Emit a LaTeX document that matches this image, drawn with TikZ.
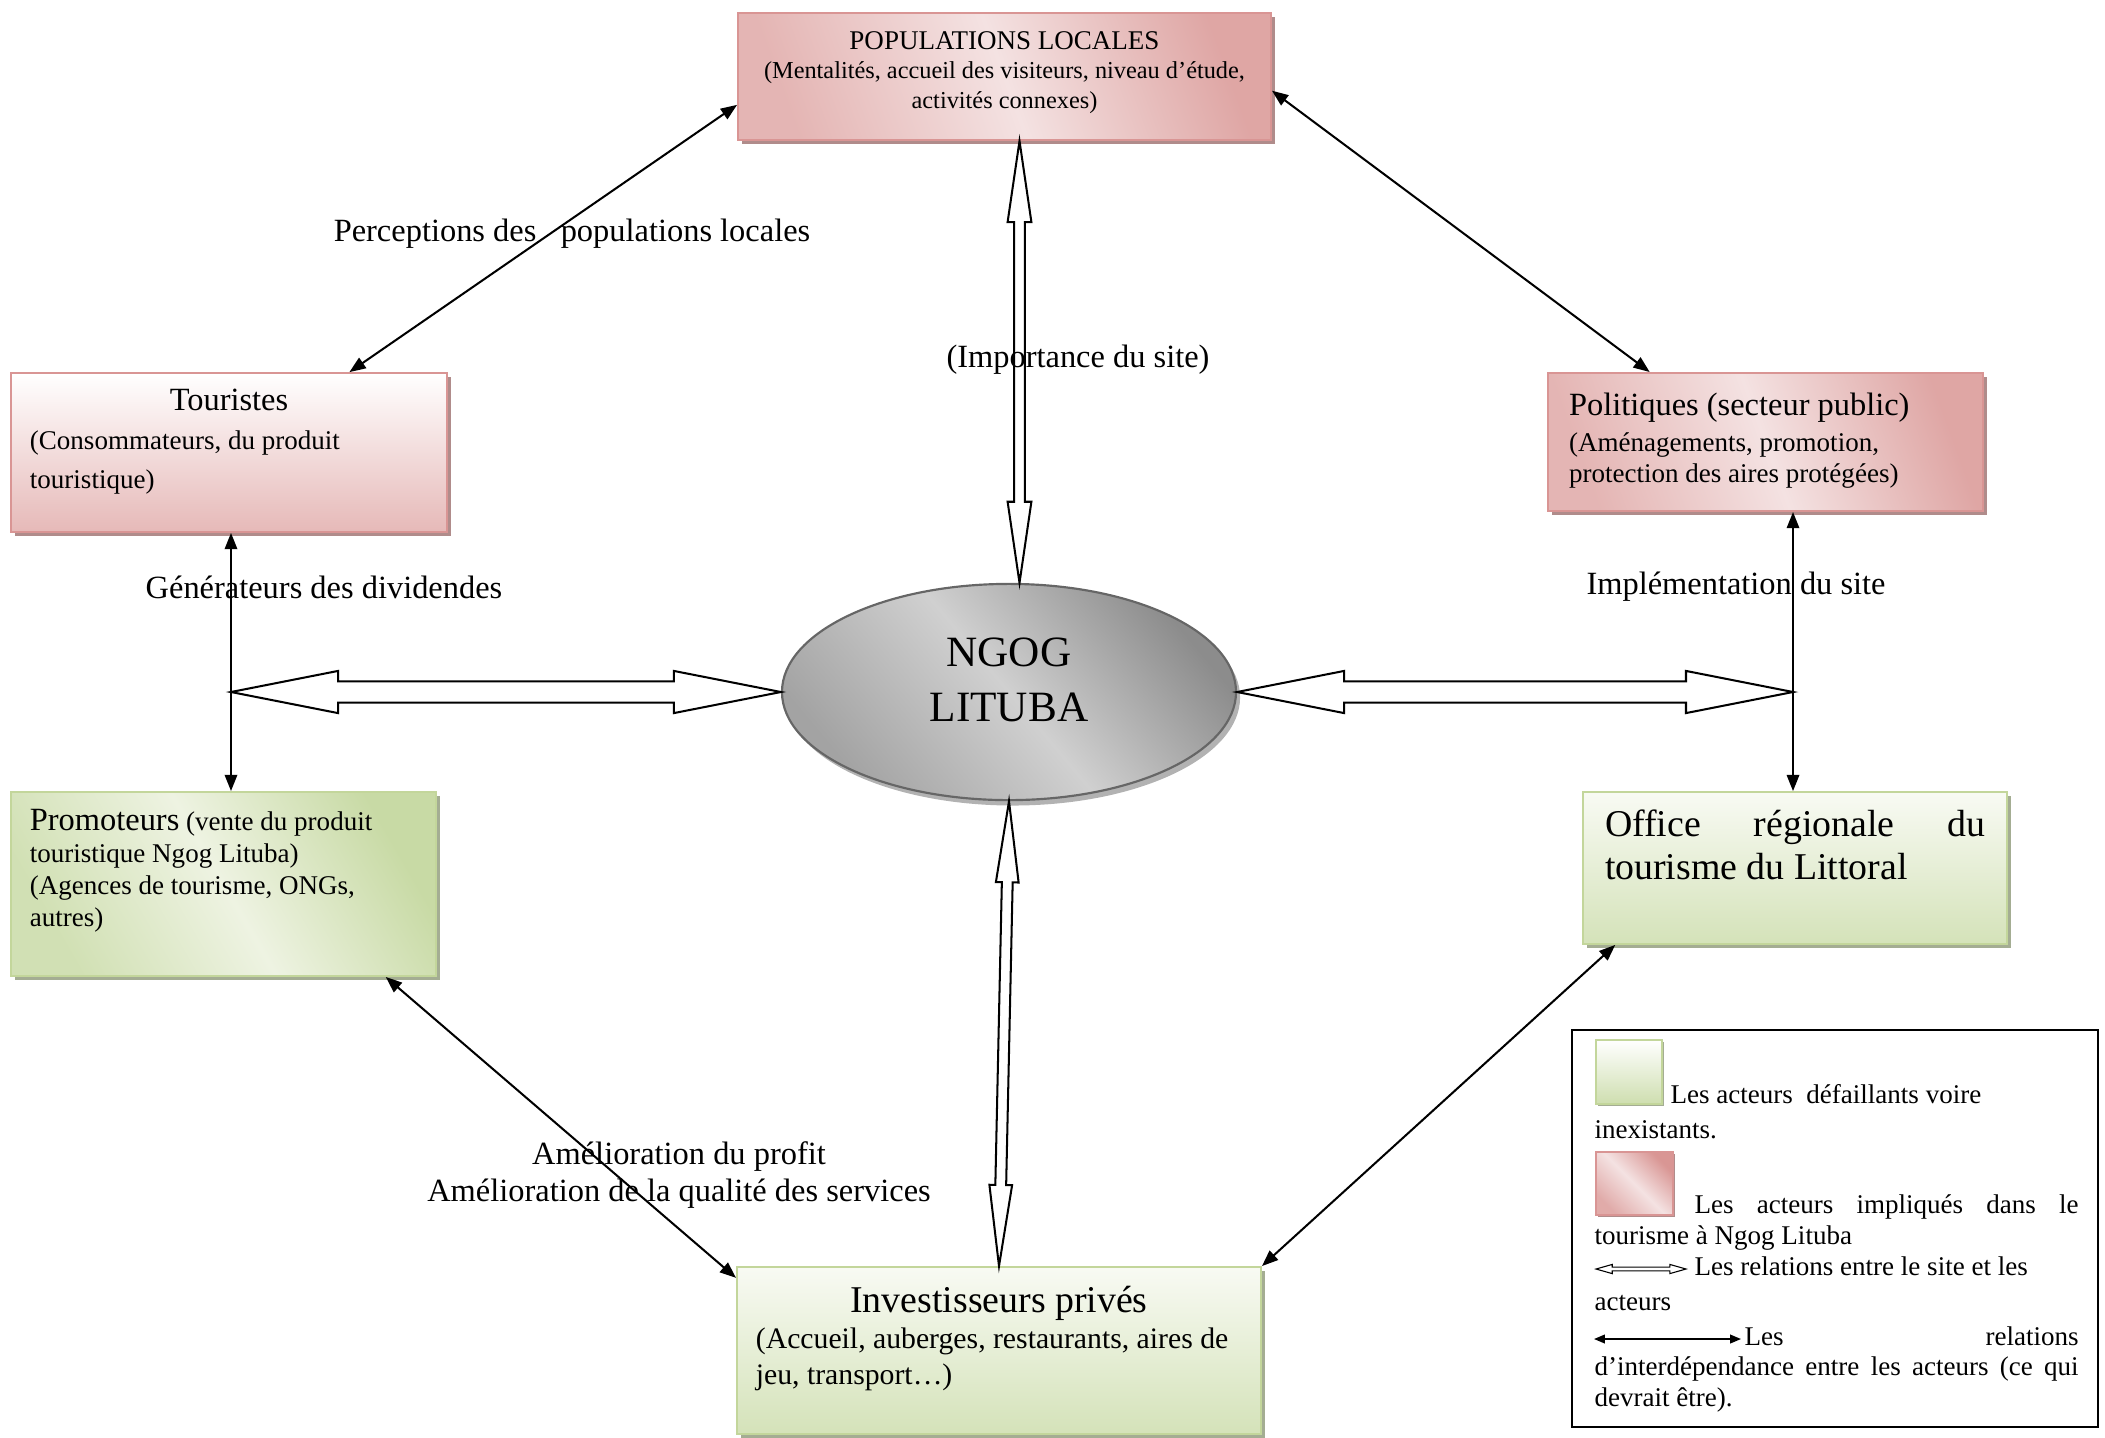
\documentclass[tikz,border=0pt]{standalone}
\usepackage{fontspec}
\setmainfont{Liberation Serif}
\usetikzlibrary{arrows.meta,calc,shapes.geometric,shadows}

\definecolor{roseline}{HTML}{D99594}
\definecolor{rosedark}{HTML}{D99694}
\definecolor{roselight}{HTML}{F4E2E2}
\definecolor{rosebottom}{HTML}{E6B9B8}
\definecolor{roseshadow}{HTML}{B08C8B}
\definecolor{greenline}{HTML}{C3D69B}
\definecolor{greendark}{HTML}{C2D69B}
\definecolor{greenlight}{HTML}{EEF3E2}
\definecolor{greenshadow}{HTML}{A4AD93}
\definecolor{greybody}{HTML}{D0D0D0}
\definecolor{greydark}{HTML}{8C8C8C}
\definecolor{greyline}{HTML}{666666}

% hollow double arrow between two named points: [style]{from}{to}{head length}{head half width}{shaft half width}
\newcommand{\sitearrow}[6][]{%
  \draw[sitelink,#1] (#2) -- ($(#2)!#4!(#3)!#5!90:(#3)$) -- ($(#2)!#4!(#3)!#6!90:(#3)$)
    -- ($(#3)!#4!(#2)!#6!-90:(#2)$) -- ($(#3)!#4!(#2)!#5!-90:(#2)$) -- (#3)
    -- ($(#3)!#4!(#2)!#5!90:(#2)$) -- ($(#3)!#4!(#2)!#6!90:(#2)$)
    -- ($(#2)!#4!(#3)!#6!-90:(#3)$) -- ($(#2)!#4!(#3)!#5!-90:(#3)$) -- cycle;}

\begin{document}
\begin{tikzpicture}[x=0.37pt,y=-0.37pt,>={Triangle[length=6pt,width=4.6pt]},
  involved/.style={draw=roseline,line width=0.7pt,drop shadow={fill=roseshadow,opacity=1,shadow xshift=1.5pt,shadow yshift=-1.5pt}},
  failing/.style={draw=greenline,line width=0.7pt,drop shadow={fill=greenshadow,opacity=1,shadow xshift=1.5pt,shadow yshift=-1.5pt}},
  mutual/.style={<->,line width=0.75pt},
  sitelink/.style={draw,fill=white,line width=0.75pt},
  lbl/.style={font=\fontsize{12}{13.7}\selectfont},
  legtext/.style={anchor=west,inner sep=0pt,font=\fontsize{10}{12}\selectfont,text height=7pt,text depth=2pt}]
\useasboundingbox (0,0) rectangle (2105,1437);

% actors
\node[involved,top color=rosedark!85,bottom color=rosedark!70,middle color=roselight,shading angle=-70,minimum width=197.2pt,minimum height=47pt,text width=190pt,inner xsep=3pt,inner ysep=1pt,align=flush center,font=\fontsize{9}{10.9}\selectfont] (pop) at (1004.5,76.5) {{\fontsize{10}{10.9}\selectfont POPULATIONS LOCALES}\\(Mentalités, accueil des visiteurs, niveau d’étude,\\activités connexes)\par\kern3pt};
\node[involved,top color=white,bottom color=rosebottom,minimum width=161.3pt,minimum height=58.8pt,text width=147.3pt,inner xsep=7pt,align=flush left,font=\fontsize{10}{14.4}\selectfont] (tour) at (229,452.5) {{\centering\fontsize{12}{14.4}\selectfont Touristes\par}(Consommateurs, du produit\\touristique)\par\kern8pt};
\node[involved,top color=rosedark!85,bottom color=rosedark!70,middle color=roselight,shading angle=-70,minimum width=161pt,minimum height=51.1pt,text width=145.4pt,inner xsep=7.8pt,align=flush left,font=\fontsize{10}{11.8}\selectfont] (pol) at (1765.5,442) {{\fontsize{12}{13.7}\selectfont Politiques (secteur public)}\\[1.5pt](Aménagements, promotion,\\protection des aires protégées)\par\kern1pt};
\node[failing,top color=greendark!90,bottom color=greendark!75,middle color=greenlight,shading angle=-60,minimum width=157.3pt,minimum height=68.1pt,text width=143.3pt,inner xsep=7pt,align=flush left,font=\fontsize{10}{11.8}\selectfont] (prom) at (223.5,884) {{\fontsize{12}{11.8}\selectfont Promoteurs} (vente du produit\\touristique Ngog Lituba)\\(Agences de tourisme, ONGs,\\autres)\par\kern10pt};
\node[failing,top color=greenlight!40,bottom color=greendark!70,minimum width=156.9pt,minimum height=56.2pt,text width=140.6pt,inner xsep=7.4pt,align=flush left,font=\fontsize{14}{15.9}\selectfont] (off) at (1795,868) {\makebox[140.6pt][s]{Office régionale du}\\tourisme du Littoral\par\kern17pt};
\node[failing,top color=greenlight!40,bottom color=greendark!70,minimum width=193.9pt,minimum height=61.8pt,text width=179.9pt,inner xsep=7pt,align=flush left,font=\fontsize{11}{13.3}\selectfont] (inv) at (999,1350.5) {{\centering\fontsize{14}{16}\selectfont Investisseurs privés\par}(Accueil, auberges, restaurants, aires de\\jeu, transport…)\par\kern8.9pt};

% the site
\node[ellipse,draw=greyline,line width=0.8pt,top color=greydark,bottom color=greydark!80!white,middle color=greybody,shading angle=-50,drop shadow={fill=gray!60,opacity=1,shadow xshift=1.5pt,shadow yshift=-2pt},minimum width=168pt,minimum height=80pt,text width=80pt,align=flush center,font=\fontsize{16}{20.4}\selectfont] (ell) at (1009,692) {NGOG\\LITUBA\par\kern9.2pt};

% relations site / actors
\coordinate (jl) at (231,692);
\coordinate (jr) at (1793,692);
\coordinate (ha) at ($(pop.south)+(15,0)$);
\coordinate (hb) at (ha |- ell.north);
\sitearrow{ha}{hb}{30pt}{4.4pt}{2pt}
\sitearrow{ell.south}{inv.north}{30pt}{4.2pt}{2pt}
\sitearrow{jl}{ell.west}{39.6pt}{7.8pt}{3.9pt}
\sitearrow{ell.east}{jr}{39.6pt}{7.8pt}{3.9pt}

% relations between actors
\draw[mutual] ($(pop.south west)!0.28!(pop.north west)$) -- ($(tour.north west)!0.775!(tour.north east)$);
\draw[mutual] ($(pop.south east)!0.39!(pop.north east)$) -- ($(pol.north west)!0.235!(pol.north east)$);
\draw[mutual] (jl |- tour.south) -- (jl |- prom.north);
\draw[mutual] (jr |- pol.south) -- (jr |- off.north);
\draw[mutual] ($(prom.south west)!0.88!(prom.south east)$) -- ($(inv.north west)!0.07!(inv.south west)$);
\draw[mutual] ($(off.south west)!0.078!(off.south east)$) -- (inv.north east);

% labels
\node[lbl] (perc) at (572,234) {Perceptions des\ \ \ populations locales};
\node[lbl] (impt) at (1078,360) {(Importance du site)};
\node[lbl] (divid) at (324,587) {Générateurs des dividendes};
\node[lbl] (implm) at (1736,587) {Implémentation du site};
\node[lbl,align=center] (profit) at (679,1175) {Amélioration du profit\\Amélioration de la qualité des services};

% legend
\node[draw,line width=0.9pt,minimum width=194.6pt,minimum height=146.9pt] (leg) at (1835,1228.5) {};
\node[draw=greenline,line width=0.5pt,top color=white,bottom color=greendark!80,minimum width=24.4pt,minimum height=23.7pt,inner sep=0pt,drop shadow={fill=greenshadow,opacity=1,shadow xshift=0.8pt,shadow yshift=-0.8pt}] (gsq) at (1629,1072) {};
\node[draw=roseline,line width=0.5pt,top color=rosedark,bottom color=rosedark!80,middle color=roselight,shading angle=-45,minimum width=28.5pt,minimum height=23.3pt,inner sep=0pt,drop shadow={fill=roseshadow,opacity=1,shadow xshift=0.8pt,shadow yshift=-0.8pt}] (psq) at (1634.5,1183.5) {};
\node[legtext] (lg1) at (1670,1097) {Les acteurs\ \ défaillants voire};
\node[legtext] (lg2) at (1594,1132) {inexistants.};
\node[legtext] (lg3) at (1694,1207) {\makebox[142.1pt][s]{Les acteurs impliqués dans le}};
\node[legtext] (lg4) at (1594,1238) {tourisme à Ngog Lituba};
\coordinate (hl1) at (1596,1269);
\coordinate (hl2) at (1686,1269);
\sitearrow[line width=0.4pt]{hl1}{hl2}{6pt}{1.7pt}{0.7pt}
\node[legtext] (lg5) at (1694,1269) {Les relations entre le site et les};
\node[legtext] (lg6) at (1594,1304) {acteurs};
\coordinate (ll1) at (1594,1339);
\coordinate (ll2) at (1741,1339);
\draw[<->,line width=0.6pt,>={Triangle[length=4pt,width=3.2pt]}] (ll1) -- (ll2);
\node[legtext] (lg7) at (1744,1339) {\makebox[123.6pt][s]{Les relations}};
\node[legtext] (lg8) at (1594,1369) {\makebox[179.1pt][s]{d’interdépendance entre les acteurs (ce qui}};
\node[legtext] (lg9) at (1594,1400) {devrait être).};
\end{tikzpicture}
\end{document}
